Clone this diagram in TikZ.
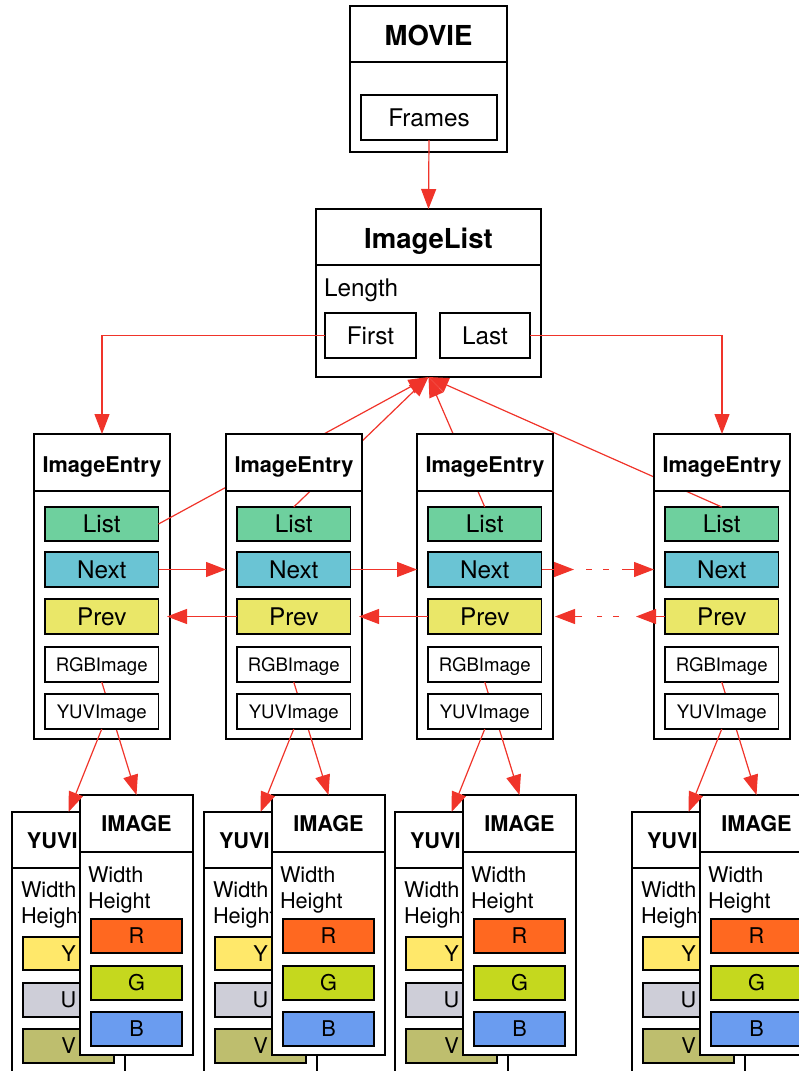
\documentclass[tikz,border=0pt]{standalone}
\usepackage{fontspec}
\setmainfont{TeX Gyre Heros}
\usetikzlibrary{arrows.meta}

\definecolor{linkred}{RGB}{240,52,42}
\definecolor{listgreen}{RGB}{110,208,158}
\definecolor{nextcyan}{RGB}{106,196,212}
\definecolor{prevyellow}{RGB}{234,231,104}
\definecolor{chanR}{RGB}{255,104,32}
\definecolor{chanG}{RGB}{197,216,30}
\definecolor{chanB}{RGB}{106,156,240}
\definecolor{chanY}{RGB}{255,232,106}
\definecolor{chanU}{RGB}{206,206,216}
\definecolor{chanV}{RGB}{190,190,110}

% rectangle node given by its corners: [style]{name}{x1}{y1}{x2}{y2}{text}
\newcommand{\rbox}[7][]{%
  \node[box,#1,minimum width={((#5)-(#3))*1pt},minimum height={((#6)-(#4))*1pt}]
    (#2) at ({((#3)+(#5))/2},{((#4)+(#6))/2}) {#7};}

\tikzset{
  box/.style={draw=black,line width=1.1pt,fill=white,inner sep=0pt,outer sep=0pt},
  bigtitle/.style={font=\fontsize{27.5}{30}\selectfont\bfseries,text height=23.7pt,text depth=0pt},
  field/.style={font=\fontsize{24.3}{28}\selectfont,text height=17.4pt,text depth=0pt},
  entrytitle/.style={font=\fontsize{21.7}{25}\selectfont\bfseries,text height=19.6pt,text depth=0pt},
  smallfield/.style={font=\fontsize{18.6}{22}\selectfont,text height=13.4pt,text depth=0pt},
  imgtitle/.style={font=\fontsize{21.7}{25}\selectfont\bfseries,text height=16.6pt,text depth=0pt},
  chan/.style={font=\fontsize{21.7}{25}\selectfont,text height=15.6pt,text depth=0pt},
  plain/.style={inner sep=0pt,outer sep=0pt},
  link/.style={draw=linkred,line width=1.2pt,-{Triangle[length=20pt,width=15pt]}},
  dots/.style={draw=linkred,line width=1.9pt},
}

\begin{document}
\begin{tikzpicture}[x=1pt,y=-1pt]
\useasboundingbox (0,0) rectangle (799,1071);
\clip (0,0) rectangle (799,1071);

% YUV and IMAGE records below every entry
\foreach \i/\L in {1/34,2/226,3/417,4/654}{
  \rbox{YB\i}{\L-22}{812}{\L+91}{1090}{}
  \rbox{YH\i}{\L-22}{812}{\L+91}{868}{}
  \node[plain,imgtitle,anchor=base west] (YT\i) at (\L-7,848.3) {YUVI};
  \node[plain,chan,anchor=base west] (YW\i) at (\L-13,897) {Width};
  \node[plain,chan,anchor=base west] (YHt\i) at (\L-13,923) {Height};
  \rbox[fill=chanY,chan]{Yc\i}{\L-11}{937}{\L+80}{970}{Y}
  \rbox[fill=chanU,chan]{Uc\i}{\L-11}{983}{\L+80}{1017}{U}
  \rbox[fill=chanV,chan]{Vc\i}{\L-11}{1029}{\L+80}{1063}{V}
  \rbox{IB\i}{\L+46}{795}{\L+159}{1055}{}
  \rbox[imgtitle]{IH\i}{\L+46}{795}{\L+159}{852}{IMAGE}
  \node[plain,chan,anchor=base west] (IW\i) at (\L+54,882) {Width};
  \node[plain,chan,anchor=base west] (IHt\i) at (\L+54,908) {Height};
  \rbox[fill=chanR,chan]{Rc\i}{\L+57}{919}{\L+148}{953}{R}
  \rbox[fill=chanG,chan]{Gc\i}{\L+57}{966}{\L+148}{1000}{G}
  \rbox[fill=chanB,chan]{Bc\i}{\L+57}{1012}{\L+148}{1046}{B}
}

% MOVIE record
\rbox{MV}{350}{6}{507}{152}{}
\rbox[bigtitle]{MVh}{350}{6}{507}{62}{MOVIE}
\rbox[field]{FR}{361}{95}{497}{140}{Frames}

% ImageList record
\rbox{IL}{316}{209}{541}{377}{}
\rbox[bigtitle]{ILh}{316}{209}{541}{265}{ImageList}
\node[plain,field,anchor=base west] (LEN) at (324,296.7) {Length};
\rbox[field]{FI}{325}{313}{416}{358}{First}
\rbox[field]{LA}{440}{313}{530}{358}{Last}

% ImageEntry bodies
\foreach \i/\L in {1/34,2/226,3/417,4/654}{
  \rbox{E\i}{\L}{434}{\L+136}{739}{}
  \rbox[fill=listgreen,field]{EL\i}{\L+11}{507}{\L+124.5}{541}{List}
  \rbox[fill=nextcyan,field]{EN\i}{\L+11}{552}{\L+124.5}{587}{Next}
  \rbox[fill=prevyellow,field]{EP\i}{\L+11}{599}{\L+124.5}{634}{Prev}
  \rbox[smallfield]{ER\i}{\L+11}{647}{\L+124.5}{682}{RGBImage}
}

% back pointers to the list (run under the entry headers)
\draw[link] (EL1.east) -- (IL.south);
\foreach \i in {2,3,4}{
  \draw[link] (EL\i.north) -- (IL.south);
}

% entry headers, image pointers and the YUVImage slot
\foreach \i/\L in {1/34,2/226,3/417,4/654}{
  \rbox[entrytitle]{EH\i}{\L}{434}{\L+136}{491}{ImageEntry}
  \draw[link] (ER\i.south) -- (IB\i.north);
  \rbox[smallfield]{EY\i}{\L+11}{694}{\L+124.5}{729}{YUVImage}
  \draw[link] (EY\i.south) -- (YB\i.north);
}

% list structure
\draw[link] (FR.south) -- (IL.north);
\draw[link] (FI.west) -| (E1.north);
\draw[link] (LA.east) -| (E4.north);

% next / prev links between neighbouring entries
\foreach \i/\j in {1/2,2/3}{
  \draw[link] (EN\i.east) -- (EN\i.east -| E\j.west);
  \draw[link,shorten >=-3pt] (EP\j.west) -- (EP\j.west -| E\i.east);
}

% elided links between the third and the last entry
\coordinate (nA) at (574,569.5);
\coordinate (nB) at (586,569.5);
\coordinate (nC) at (609,569.5);
\coordinate (nD) at (622,569.5);
\draw[link] (EN3.east) -- (nA);
\draw[dots,dash pattern=on 6pt off 11pt] (nB) -- (nC);
\draw[link] (nD) -- (nD -| E4.west);

\coordinate (pA) at (636,616.5);
\coordinate (pB) at (619,616.5);
\coordinate (pC) at (597,616.5);
\coordinate (pD) at (582,616.5);
\coordinate (pE) at (555,616.5);
\draw[link] (EP4.west) -- (pA);
\draw[dots,dash pattern=on 6pt off 11pt] (pB) -- (pC);
\draw[link] (pD) -- (pE);
\end{tikzpicture}
\end{document}
